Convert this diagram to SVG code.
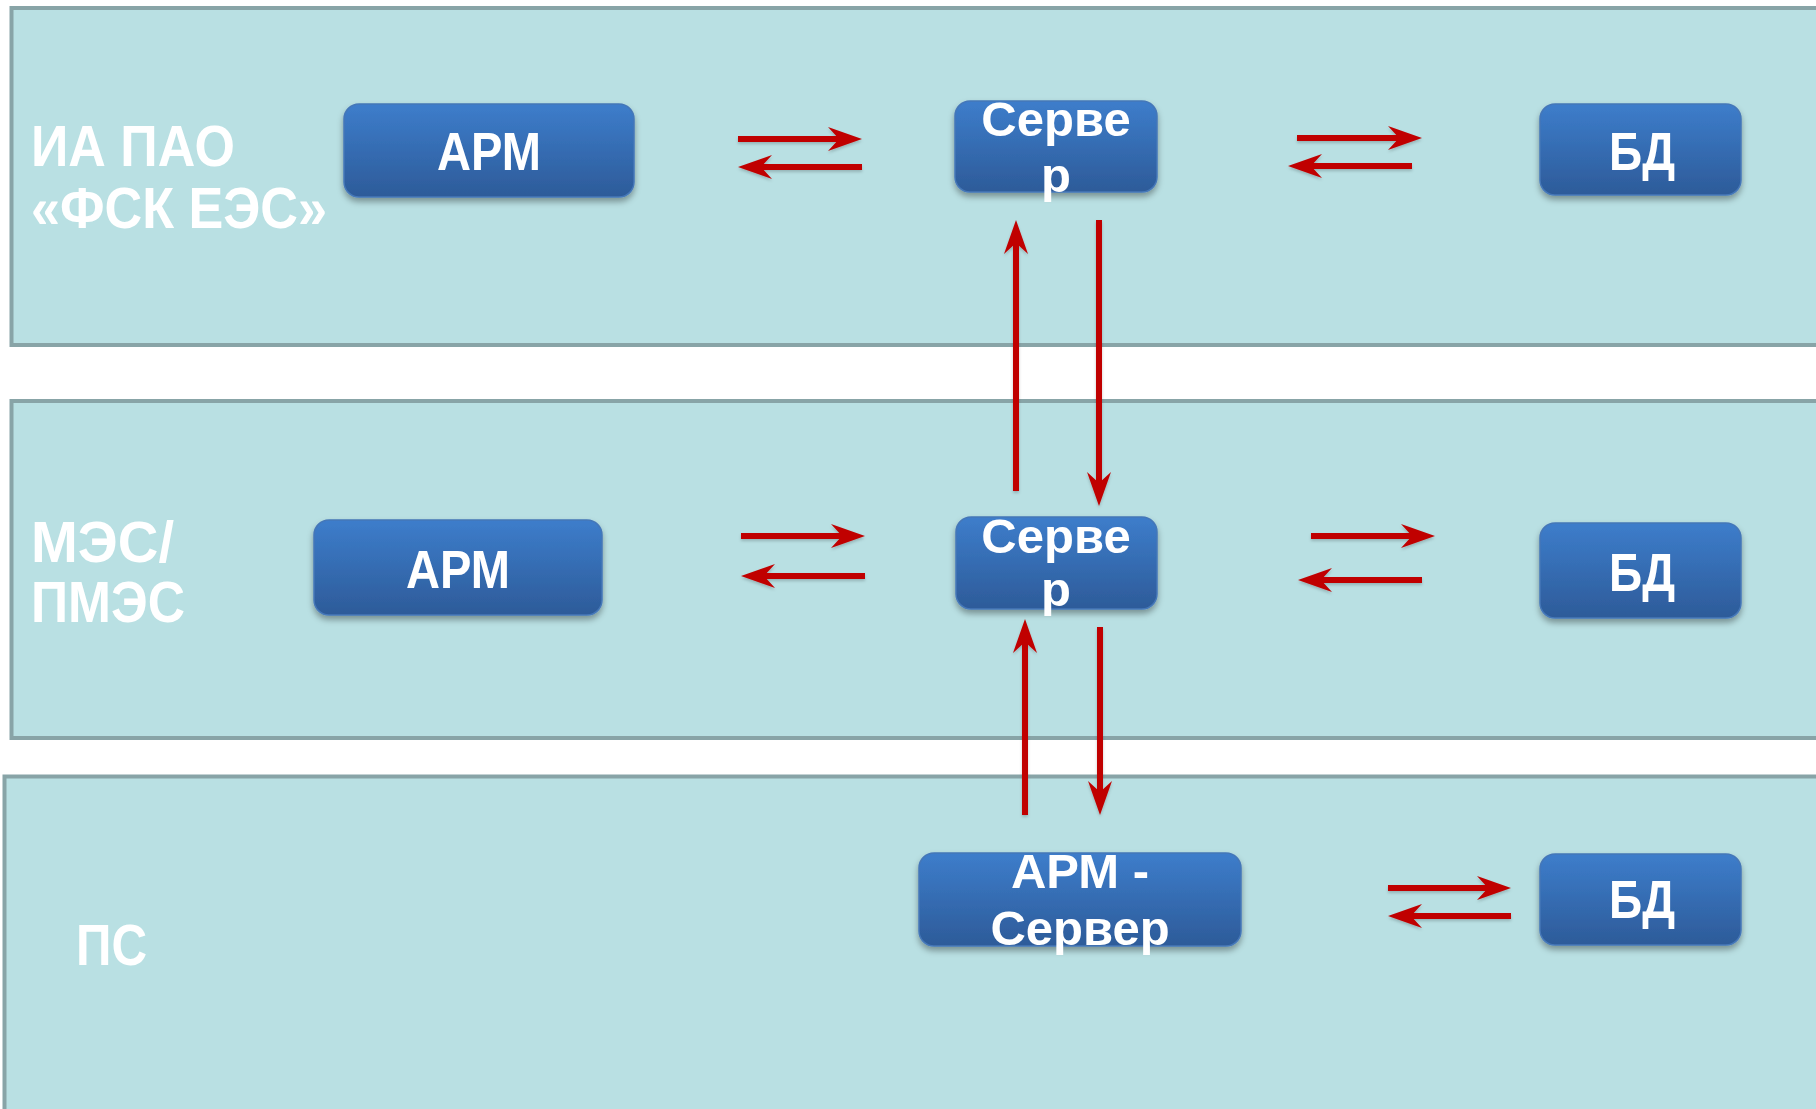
<svg xmlns="http://www.w3.org/2000/svg" width="1816" height="1109" viewBox="0 0 1816 1109">
<style>
.panel{fill:#b9e0e3;stroke:#88a4a7;stroke-width:4}
.box{fill:url(#bg);stroke:#4577b8;stroke-width:1.5;filter:url(#sh)}
.lbl{font-family:"Liberation Sans",Arial,sans-serif;font-weight:bold;font-size:58px;fill:#ffffff}
.bt{font-family:"Liberation Sans",Arial,sans-serif;font-weight:bold;font-size:54px;fill:#ffffff;text-anchor:middle}
.st{font-family:"Liberation Sans",Arial,sans-serif;font-weight:bold;font-size:49px;fill:#ffffff;text-anchor:middle}
.ar{stroke:#c00000;stroke-width:6;fill:none;marker-end:url(#ah)}
</style>
<defs>
<linearGradient id="bg" x1="0" y1="0" x2="0" y2="1">
<stop offset="0" stop-color="#3d7dcb"/>
<stop offset="1" stop-color="#2d5b99"/>
</linearGradient>
<filter id="sh" x="-10%" y="-10%" width="120%" height="140%">
<feDropShadow dx="0" dy="4" stdDeviation="3" flood-color="#000" flood-opacity="0.35"/>
</filter>
<filter id="ash" filterUnits="userSpaceOnUse" x="0" y="0" width="1816" height="1109">
<feDropShadow dx="0" dy="2" stdDeviation="1.5" flood-color="#000" flood-opacity="0.2"/>
</filter>
<marker id="ah" markerUnits="userSpaceOnUse" viewBox="0 0 34 24" refX="19" refY="12" markerWidth="34" markerHeight="24" orient="auto">
<path d="M0,0 L34,12 L0,24 L11,12 Z" fill="#c00000"/>
</marker>
</defs>
<g id="panels">
<rect class="panel" x="11.5" y="8" width="1830" height="337"/>
<rect class="panel" x="11.5" y="401" width="1830" height="337"/>
<rect class="panel" x="4.5" y="776.5" width="1840" height="400"/>
<text class="lbl" x="31" y="166" textLength="204" lengthAdjust="spacingAndGlyphs">ИА ПАО</text>
<text class="lbl" x="31" y="228" textLength="296" lengthAdjust="spacingAndGlyphs">«ФСК ЕЭС»</text>
<text class="lbl" x="31" y="562" textLength="143" lengthAdjust="spacingAndGlyphs">МЭС/</text>
<text class="lbl" x="31" y="622" textLength="154" lengthAdjust="spacingAndGlyphs">ПМЭС</text>
<text class="lbl" x="76" y="965" textLength="71" lengthAdjust="spacingAndGlyphs">ПС</text>
</g>
<g id="connectors" filter="url(#ash)">
<line class="ar" x1="738" y1="139" x2="847" y2="139"/>
<line class="ar" x1="862" y1="167" x2="753" y2="167"/>
<line class="ar" x1="1297" y1="138" x2="1407" y2="138"/>
<line class="ar" x1="1412" y1="166" x2="1303" y2="166"/>
<line class="ar" x1="741" y1="536" x2="850" y2="536"/>
<line class="ar" x1="865" y1="576" x2="756" y2="576"/>
<line class="ar" x1="1311" y1="536" x2="1420" y2="536"/>
<line class="ar" x1="1422" y1="580" x2="1313" y2="580"/>
<line class="ar" x1="1388" y1="888" x2="1496" y2="888"/>
<line class="ar" x1="1511" y1="916" x2="1403" y2="916"/>
<line class="ar" x1="1016" y1="491" x2="1016" y2="235"/>
<line class="ar" x1="1099" y1="220" x2="1099" y2="491"/>
<line class="ar" x1="1025" y1="815" x2="1025" y2="634"/>
<line class="ar" x1="1100" y1="627" x2="1100" y2="800"/>
</g>
<g id="arm1">
<rect class="box" x="344" y="104" width="290" height="93" rx="15"/>
<text class="bt" x="489" y="170" textLength="104" lengthAdjust="spacingAndGlyphs">АРМ</text>
</g>
<g id="server1">
<rect class="box" x="955" y="101" width="202" height="91" rx="15"/>
<text class="st" x="1056" y="136">Серве</text>
<text class="st" x="1056" y="192">р</text>
</g>
<g id="bd1">
<rect class="box" x="1540" y="104" width="201" height="91" rx="15"/>
<text class="bt" x="1642" y="170" textLength="66" lengthAdjust="spacingAndGlyphs">БД</text>
</g>
<g id="arm2">
<rect class="box" x="314" y="520" width="288" height="95" rx="15"/>
<text class="bt" x="458" y="588" textLength="104" lengthAdjust="spacingAndGlyphs">АРМ</text>
</g>
<g id="server2">
<rect class="box" x="956" y="517" width="201" height="92" rx="15"/>
<text class="st" x="1056" y="553">Серве</text>
<text class="st" x="1056" y="606">р</text>
</g>
<g id="bd2">
<rect class="box" x="1540" y="523" width="201" height="95" rx="15"/>
<text class="bt" x="1642" y="591" textLength="66" lengthAdjust="spacingAndGlyphs">БД</text>
</g>
<g id="armserver">
<rect class="box" x="919" y="853" width="322" height="93" rx="15"/>
<text class="st" x="1080" y="888">АРМ -</text>
<text class="st" x="1080" y="945">Сервер</text>
</g>
<g id="bd3">
<rect class="box" x="1540" y="854" width="201" height="91" rx="15"/>
<text class="bt" x="1642" y="918" textLength="66" lengthAdjust="spacingAndGlyphs">БД</text>
</g>
</svg>
